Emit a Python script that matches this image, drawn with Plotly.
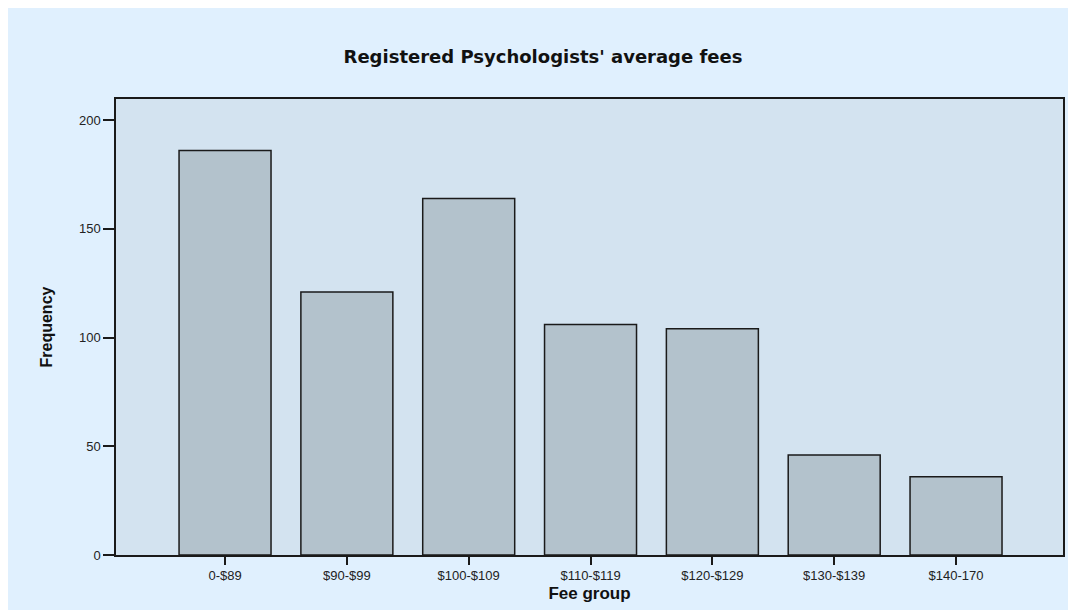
import plotly.graph_objects as go

categories = ["0-$89", "$90-$99", "$100-$109", "$110-$119", "$120-$129", "$130-$139", "$140-170"]
frequency = [186, 121, 164, 106, 104, 46, 36]
y_ticks = [0, 50, 100, 150, 200]

# page has an 8px body margin, so the figure is 8px smaller than the window
W, H = 1068, 602
L, R, T, B = 108, 13, 91, 55

fig = go.Figure()
fig.add_trace(go.Bar(
    x=categories, y=frequency, width=0.755,
    marker=dict(color="#b3c2cc", line=dict(color="#1a1a1a", width=1.5)),
    hoverinfo="x+y",
))

fig.update_layout(
    width=W, height=H,
    margin=dict(l=L, r=R, t=T, b=B, autoexpand=False),
    paper_bgcolor="#e0f0fe",
    plot_bgcolor="#d3e3f0",
    showlegend=False,
    title=dict(text="Registered Psychologists' average fees",
               x=535 / W, xanchor="center", y=1 - 49 / H, yanchor="middle",
               font=dict(family="DejaVu Sans", size=18, color="#111111", weight="bold")),
    font=dict(family="Liberation Sans", size=13, color="#222222"),
)
fig.update_xaxes(
    type="category", categoryorder="array", categoryarray=categories,
    range=[-0.895, 6.878],
    showline=True, mirror=True, linecolor="#1a1a1a", linewidth=1.5,
    ticks="outside", ticklen=8, tickcolor="#1a1a1a", tickwidth=1.5,
    showgrid=False, zeroline=False,
    tickfont=dict(family="Liberation Sans", size=13, color="#222222"),
    title=dict(text="Fee group", standoff=5,
               font=dict(family="Liberation Sans", size=17, color="#111111", weight="bold")),
)
fig.update_yaxes(
    range=[0, 209.7], tickvals=y_ticks,
    showline=True, mirror=True, linecolor="#1a1a1a", linewidth=1.5,
    ticks="outside", ticklen=11, tickcolor="#1a1a1a", tickwidth=1.5,
    showgrid=False, zeroline=False,
    tickfont=dict(family="Liberation Sans", size=13, color="#222222"),
    title=dict(text="Frequency", standoff=22,
               font=dict(family="Liberation Sans", size=16, color="#111111", weight="bold")),
)

fig.write_html("out.html")
